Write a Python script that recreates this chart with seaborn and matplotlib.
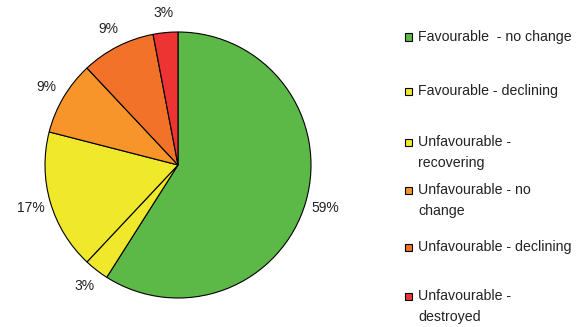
import matplotlib
matplotlib.use("Agg")
import matplotlib.pyplot as plt
import seaborn as sns
from matplotlib.patches import Rectangle

# Conservation status shares (%)
categories = [
    "Favourable  - no change",
    "Favourable - declining",
    "Unfavourable -\nrecovering",
    "Unfavourable - no\nchange",
    "Unfavourable - declining",
    "Unfavourable -\ndestroyed",
]
shares = [59, 3, 17, 9, 9, 3]
colors = ["#5DB947", "#F0E82A", "#F0E82A", "#F7952A", "#F2722A", "#EE3333"]

sns.set_theme(style="white")
plt.rcParams["font.family"] = ["Liberation Sans", "DejaVu Sans"]

W, H = 578, 327
fig = plt.figure(figsize=(W / 100, H / 100), dpi=100)
fig.patch.set_facecolor("white")

# Pie axes: radius 1 maps to 133 px, centre at (178, 165) px from top-left
R = 133.0
cx, cy = 178.0, 165.0
xl, yl = 1.4, 1.22
ax = fig.add_axes([(cx - xl * R) / W, (H - cy - yl * R) / H, 2 * xl * R / W, 2 * yl * R / H])

total = sum(shares)
ax.pie(
    shares,
    colors=colors,
    startangle=90,
    counterclock=False,
    autopct=lambda p: f"{p * total / 100:.0f}%",
    pctdistance=1.15,
    wedgeprops=dict(edgecolor="black", linewidth=0.8),
    textprops=dict(fontsize=10, color="#222222"),
)
ax.set_xlim(-xl, xl)
ax.set_ylim(-yl, yl)
ax.set_aspect("equal")
ax.axis("off")

# Legend entries placed down the right side
entry_y = [37, 91, 142, 190, 247, 296]
sq = 7
for label, color, y in zip(categories, colors, entry_y):
    fig.patches.append(
        Rectangle((405 / W, (H - y - sq / 2) / H), sq / W, sq / H,
                  transform=fig.transFigure, facecolor=color,
                  edgecolor="black", linewidth=0.8)
    )
    # first text line centred on the marker
    fig.text(418 / W, (H - y + 7) / H, label, ha="left", va="top",
             fontsize=10.2, color="#222222", linespacing=1.6,
             transform=fig.transFigure)

fig.savefig("out.png", dpi=100, facecolor="white")
